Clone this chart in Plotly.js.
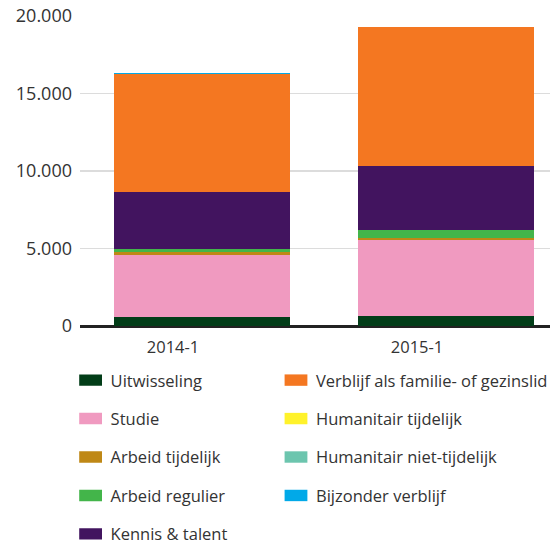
<!DOCTYPE html>
<html>
<head>
<meta charset="utf-8">
<script src="https://cdn.plot.ly/plotly-3.0.1.min.js"></script>
<style>html,body{margin:0;padding:0;background:#fff;}#chart{width:555px;height:547px;}</style>
</head>
<body>
<div id="chart"></div>
<script>
const categories = ["2014-1", "2015-1"];
const seriesNames = ["Uitwisseling", "Studie", "Arbeid tijdelijk", "Arbeid regulier", "Kennis & talent",
  "Verblijf als familie- of gezinslid", "Humanitair tijdelijk", "Humanitair niet-tijdelijk", "Bijzonder verblijf"];
const uitwisseling = [550, 630];
const studie = [4000, 4950];
const arbeidTijdelijk = [215, 110];
const arbeidRegulier = [220, 535];
const kennisTalent = [3635, 4130];
const verblijfFamilie = [7650, 8910];
const humanitairTijdelijk = [0, 0];
const humanitairNietTijdelijk = [0, 0];
const bijzonderVerblijf = [45, 45];
const yTicks = [0, 5000, 10000, 15000, 20000];

const seriesValues = [uitwisseling, studie, arbeidTijdelijk, arbeidRegulier, kennisTalent,
  verblijfFamilie, humanitairTijdelijk, humanitairNietTijdelijk, bijzonderVerblijf];
const colors = ["#023d18", "#f09ac0", "#bf8816", "#43b54a", "#42145f", "#f47721", "#fff22b", "#6cc5ae", "#01a9e8"];

const traces = seriesNames.map((name, i) => ({
  type: "bar",
  name: name,
  x: categories,
  y: seriesValues[i],
  marker: {color: colors[i], line: {width: 0}},
  legend: i < 5 ? "legend" : "legend2",
  legendgroup: "g" + i,
  hoverinfo: "name+y"
}));

const font = "'Open Sans', 'Noto Sans', sans-serif";
const layout = {
  width: 555, height: 547,
  margin: {l: 80, r: 5, t: 16, b: 221, autoexpand: false},
  paper_bgcolor: "#fff", plot_bgcolor: "#fff",
  separators: ",.",
  barmode: "stack",
  bargap: 0.28,
  font: {family: font, size: 16, color: "#333"},
  xaxis: {
    type: "category",
    range: [-0.5, 1.426],
    showgrid: false, showline: false, zeroline: false,
    ticks: "", tickfont: {size: 16.5, color: "#333"},
    ticklabelstandoff: 9,
    ticklabelshift: -29
  },
  yaxis: {
    range: [0, 20000],
    tickvals: yTicks,
    tickformat: ",d",
    showgrid: true, gridcolor: "#dcdcdc", gridwidth: 1.5,
    zeroline: true, zerolinecolor: "#222", zerolinewidth: 3,
    showline: false, ticks: "",
    tickfont: {size: 18, color: "#333"},
    ticklabelstandoff: 7
  },
  showlegend: true,
  legend: {
    orientation: "v", x: -0.02, xanchor: "left", y: -0.119, yanchor: "top",
    font: {size: 16.5, color: "#333"}, tracegroupgap: 14, traceorder: "grouped",
    bgcolor: "rgba(0,0,0,0)", maxheight: 800
  },
  legend2: {
    orientation: "v", x: 0.417, xanchor: "left", y: -0.119, yanchor: "top",
    font: {size: 16.5, color: "#333"}, tracegroupgap: 14, traceorder: "grouped",
    bgcolor: "rgba(0,0,0,0)", maxheight: 800
  }
};

const gd = document.getElementById("chart");
function widenSwatches() {
  gd.querySelectorAll("g.legendpoints path").forEach(p => {
    let t = p.getAttribute("transform") || "";
    t = t.replace(/\s*scale\([^)]*\)/, "");
    p.setAttribute("transform", (t + " scale(1.9,0.95)").trim());
  });
}
Plotly.newPlot(gd, traces, layout, {displayModeBar: false, staticPlot: true}).then(() => {
  widenSwatches();
  setTimeout(widenSwatches, 50);
  gd.on("plotly_afterplot", widenSwatches);
});
</script>
</body>
</html>
